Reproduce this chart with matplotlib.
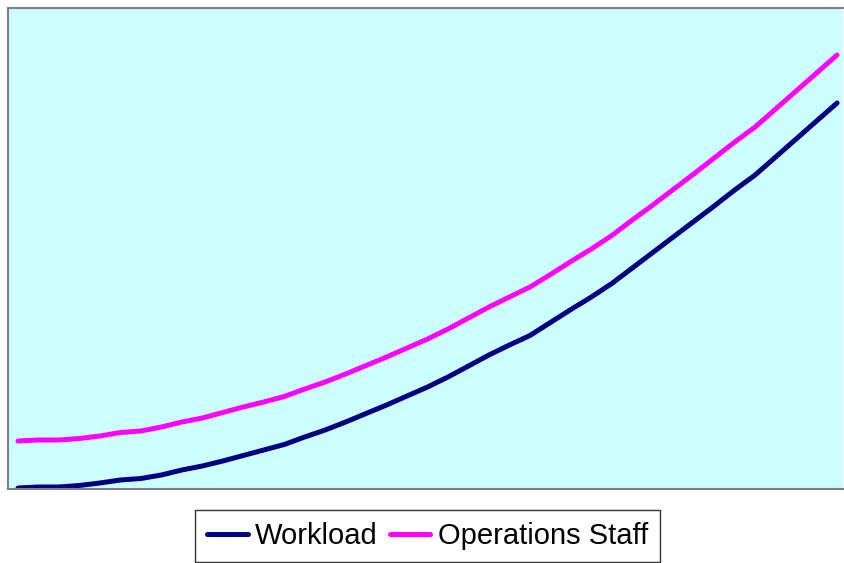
import numpy as np
import matplotlib.pyplot as plt

plt.rcParams["font.family"] = ["Liberation Sans", "DejaVu Sans"]

# values (pixel height above the x axis)
workload = [1, 2, 2, 3.5, 6, 9, 10.5, 14, 19, 23, 28, 33.5, 39, 44.5, 52, 59,
            67, 75.5, 84, 93, 102, 112, 123, 134, 144, 153.5, 166.5, 179.5,
            192, 205.5, 221, 236.5, 252, 267.5, 283, 299, 314, 332, 350, 368, 386]
operations_staff = [48, 49, 49, 50.5, 53, 56.5, 58, 62, 67, 71, 76.5, 82, 87,
                    92.5, 100, 107, 115, 123.5, 132, 141, 150, 160, 171, 182,
                    192, 202, 214.5, 227.5, 240, 253.5, 269, 284, 299.5, 315,
                    331, 347, 362, 380, 398, 416, 434]
periods = np.arange(len(workload))

fig = plt.figure(figsize=(8.44, 5.63), dpi=100)
ax = fig.add_axes([8 / 844, 74 / 563, 835 / 844, 481 / 563])
ax.set_facecolor("#CCFFFF")

ax.plot(periods, workload, color="#000080", lw=3.6, solid_capstyle="round",
        solid_joinstyle="round", label="Workload")
ax.plot(periods, operations_staff, color="#FF00FF", lw=3.6, solid_capstyle="round",
        solid_joinstyle="round", label="Operations Staff")

ax.set_xlim(-0.49, 40.29)
ax.set_ylim(0, 481)
ax.set_xticks([])
ax.set_yticks([])
for side in ["left", "bottom", "top"]:
    ax.spines[side].set_color("#808080")
    ax.spines[side].set_linewidth(1.5)
ax.spines["right"].set_visible(False)

leg = fig.legend(loc="center", bbox_to_anchor=(0.5065, 0.048), ncol=2,
                 fontsize=21, frameon=True, fancybox=False, edgecolor="black",
                 handlelength=1.4, handletextpad=0.25, columnspacing=0.4,
                 borderpad=0.42, borderaxespad=0)
leg.get_frame().set_linewidth(1.0)

fig.savefig("out.png", dpi=100)
